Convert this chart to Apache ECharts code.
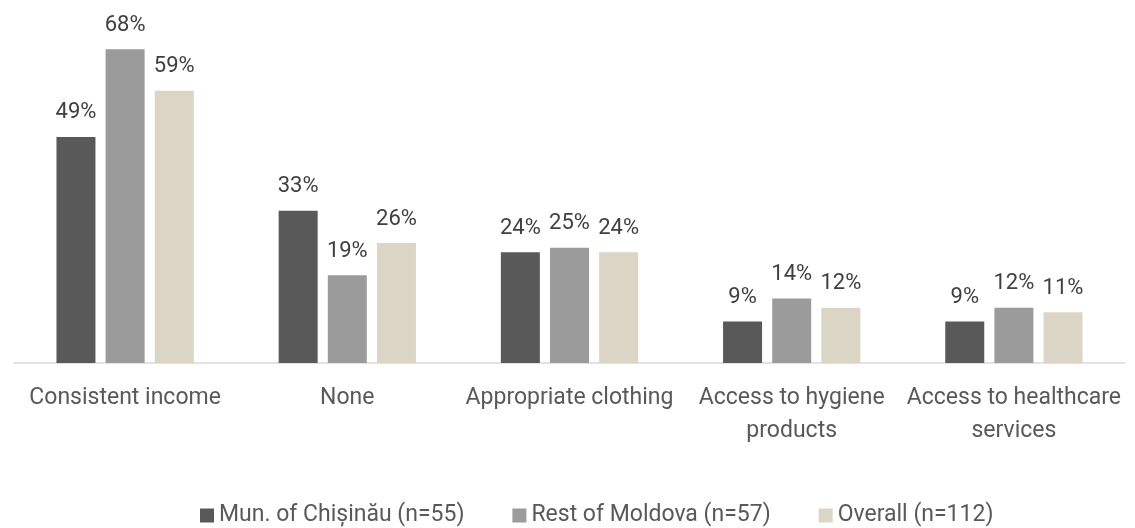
<!DOCTYPE html>
<html>
<head>
<meta charset="utf-8">
<script src="https://cdn.jsdelivr.net/npm/echarts@6/dist/echarts.min.js"></script>
<style>
  html, body { margin: 0; padding: 0; background: #ffffff; }
  #chart { width: 1135px; height: 528px; }
</style>
</head>
<body>
<div id="chart"></div>
<script>
// Support needed, by area of residence (% of respondents)
const categories = [
  'Consistent income',
  'None',
  'Appropriate clothing',
  'Access to hygiene\nproducts',
  'Access to healthcare\nservices'
];
const seriesNames = ['Mun. of Chișinău (n=55)', 'Rest of Moldova (n=57)', 'Overall (n=112)'];
const chisinau = [49, 33, 24, 9, 9];
const restOfMoldova = [68, 19, 25, 14, 12];
const overall = [59, 26, 24, 12, 11];

const colors = ['#595959', '#9B9B9B', '#DBD5C5'];
const FONT = 'Roboto';

const chart = echarts.init(document.getElementById('chart'), null, { renderer: 'canvas' });

function barSeries(name, data, color) {
  return {
    name: name,
    type: 'bar',
    data: data,
    barWidth: 39,
    barGap: '26%',
    itemStyle: { color: color },
    label: {
      show: true,
      position: 'top',
      distance: 13,
      formatter: '{c}%',
      color: '#404040',
      fontFamily: FONT,
      fontSize: 22
    }
  };
}

chart.setOption({
  animation: false,
  color: colors,
  grid: { left: 14, right: 10, top: 40, bottom: 165, containLabel: false },
  legend: {
    left: 195,
    top: 499,
    itemWidth: 14,
    itemHeight: 14,
    itemGap: 48,
    icon: 'rect',
    textStyle: { color: '#595959', fontFamily: FONT, fontSize: 23 },
    data: seriesNames
  },
  xAxis: {
    type: 'category',
    data: categories,
    axisLine: { lineStyle: { color: '#D9D9D9', width: 1.5 } },
    axisTick: { show: false },
    axisLabel: {
      interval: 0,
      margin: 19,
      color: '#595959',
      fontFamily: FONT,
      fontSize: 23,
      lineHeight: 33
    }
  },
  yAxis: {
    type: 'value',
    min: 0,
    max: 70,
    show: false,
    splitLine: { show: false }
  },
  series: [
    barSeries(seriesNames[0], chisinau, colors[0]),
    barSeries(seriesNames[1], restOfMoldova, colors[1]),
    barSeries(seriesNames[2], overall, colors[2])
  ]
});
</script>
</body>
</html>
